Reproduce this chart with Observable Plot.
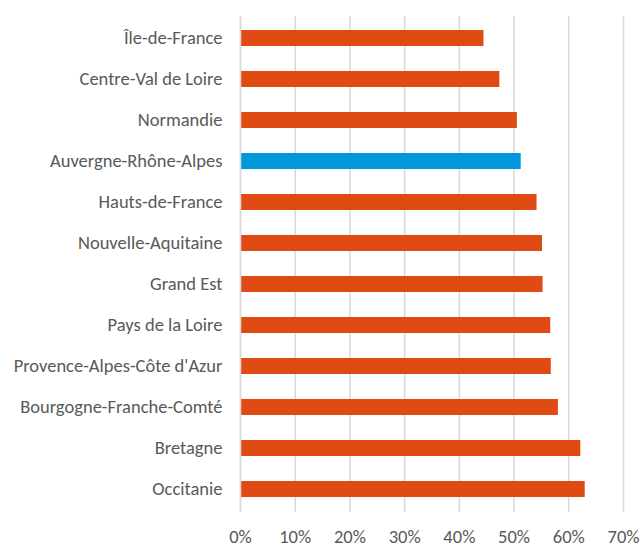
<!DOCTYPE html>
<html>
<head>
<meta charset="utf-8">
<script src="https://cdn.jsdelivr.net/npm/d3@7"></script>
<script src="https://cdn.jsdelivr.net/npm/@observablehq/plot@0.6"></script>
<style>
html, body { margin: 0; padding: 0; background: #fff; }
svg { display: block; }
</style>
</head>
<body>
<div id="chart"></div>
<script>
const regions = ["Île-de-France", "Centre-Val de Loire", "Normandie", "Auvergne-Rhône-Alpes", "Hauts-de-France", "Nouvelle-Aquitaine", "Grand Est", "Pays de la Loire", "Provence-Alpes-Côte d'Azur", "Bourgogne-Franche-Comté", "Bretagne", "Occitanie"];
const values = [0.445, 0.474, 0.506, 0.513, 0.542, 0.552, 0.553, 0.567, 0.568, 0.581, 0.622, 0.630];
const highlight = "Auvergne-Rhône-Alpes";
const xTicks = [0, 0.1, 0.2, 0.3, 0.4, 0.5, 0.6, 0.7];

const data = regions.map((r, i) => ({region: r, value: values[i]}));
const font = "Carlito, Lato, sans-serif";

const chart = Plot.plot({
  width: 642,
  height: 551,
  marginLeft: 240,
  marginRight: 19,
  marginTop: 16,
  marginBottom: 39,
  style: {fontFamily: font, fontSize: "18.5px", color: "#595959", background: "#fff"},
  x: {domain: [0, 0.7], ticks: xTicks, tickFormat: d3.format(".0%"), label: null},
  y: {domain: regions, paddingInner: 0.6, paddingOuter: 0.3, label: null},
  marks: [
    Plot.gridX(xTicks, {stroke: "#d9d9d9", strokeOpacity: 1, strokeWidth: 1.5}),
    Plot.axisX(xTicks, {tickSize: 0, tickPadding: 17, tickFormat: d3.format(".0%"), fill: "#595959", fontSize: 18.5, label: null}),
    Plot.axisY({tickSize: 0, tickPadding: 18, fill: "#595959", fontSize: 18.5, label: null}),
    Plot.barX(data, {x: "value", y: "region", fill: d => d.region === highlight ? "#0098DB" : "#E04A13"}),
    Plot.ruleX([0], {stroke: "#d9d9d9", strokeWidth: 1.5})
  ]
});
document.getElementById("chart").appendChild(chart);
</script>
</body>
</html>
